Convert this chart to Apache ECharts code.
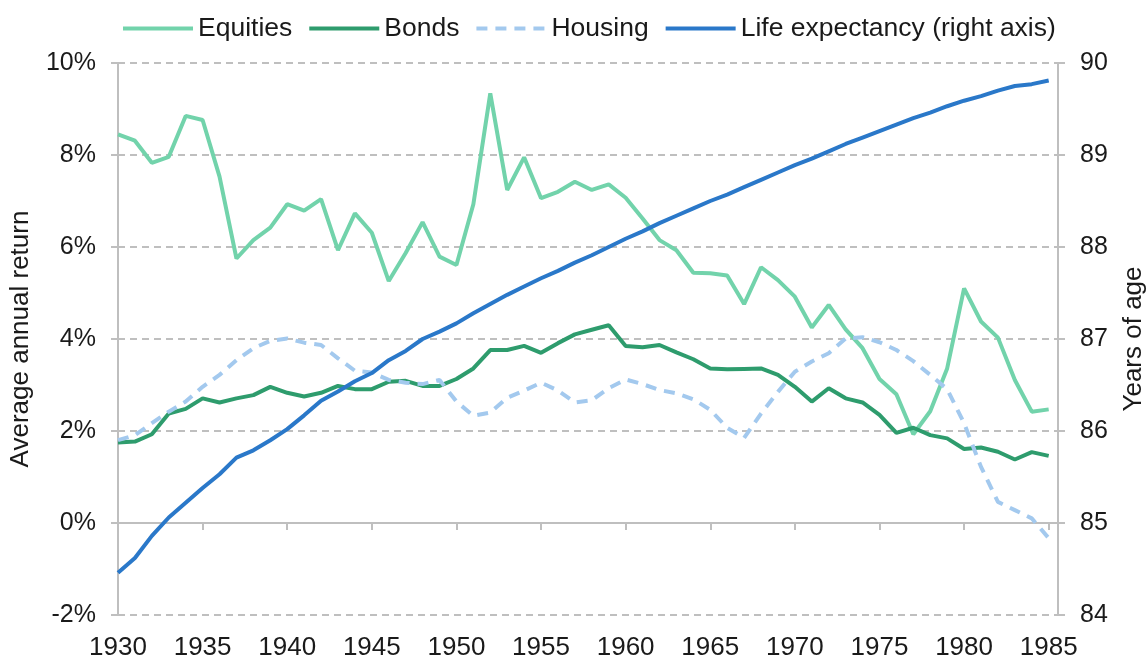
<!DOCTYPE html>
<html>
<head>
<meta charset="utf-8">
<script src="https://cdn.jsdelivr.net/npm/echarts@6/dist/echarts.min.js"></script>
<style>
html,body{margin:0;padding:0;background:#fff;}
#chart{width:1147px;height:658px;}
</style>
</head>
<body>
<div id="chart"></div>
<script>
const years = [];
for (let y = 1930; y <= 1985; y++) years.push(y);

const equities = [8.45,8.31,7.83,7.96,8.85,8.76,7.53,5.75,6.15,6.42,
  6.93,6.79,7.04,5.93,6.73,6.31,5.26,5.87,6.54,5.79,
  5.61,6.93,9.34,7.24,7.95,7.06,7.20,7.42,7.24,7.36,
  7.07,6.62,6.15,5.93,5.44,5.43,5.38,4.76,5.56,5.28,
  4.92,4.25,4.74,4.21,3.80,3.13,2.80,1.93,2.43,3.36,
  5.10,4.38,4.03,3.11,2.42,2.47];

const bonds = [1.75,1.77,1.93,2.38,2.48,2.71,2.62,2.71,2.78,2.96,
  2.83,2.75,2.83,2.98,2.91,2.91,3.07,3.09,2.98,2.98,
  3.13,3.36,3.76,3.76,3.85,3.70,3.91,4.10,4.20,4.30,
  3.85,3.82,3.87,3.71,3.56,3.36,3.34,3.35,3.36,3.22,
  2.96,2.64,2.93,2.71,2.62,2.35,1.96,2.07,1.91,1.84,
  1.61,1.64,1.55,1.38,1.54,1.46];

const housing = [1.80,1.91,2.17,2.42,2.64,2.96,3.22,3.54,3.80,3.96,
  4.01,3.92,3.87,3.58,3.31,3.27,3.11,3.05,3.02,3.11,
  2.64,2.33,2.40,2.72,2.88,3.05,2.88,2.62,2.67,2.93,
  3.12,3.02,2.89,2.82,2.69,2.46,2.07,1.85,2.38,2.85,
  3.29,3.51,3.69,4.01,4.04,3.93,3.76,3.52,3.22,2.91,
  2.17,1.22,0.46,0.28,0.10,-0.33];

const lifeExpectancy = [84.46,84.62,84.86,85.06,85.22,85.38,85.53,85.71,85.79,85.90,
  86.02,86.17,86.33,86.43,86.54,86.63,86.77,86.87,87.00,87.08,
  87.17,87.28,87.38,87.48,87.57,87.66,87.74,87.83,87.91,88.00,
  88.09,88.17,88.26,88.34,88.42,88.50,88.57,88.65,88.73,88.81,
  88.89,88.96,89.04,89.12,89.19,89.26,89.33,89.40,89.46,89.53,
  89.59,89.64,89.70,89.75,89.77,89.81];

const seriesNames = ['Equities','Bonds','Housing','Life expectancy (right axis)'];
const leftTicks = [-2,0,2,4,6,8,10];
const rightTicks = [84,85,86,87,88,89,90];

const pairs = arr => years.map((y, i) => [y, arr[i]]);

const FONT = "'Liberation Sans', Arial, sans-serif";
const TXT = '#1a1a1a';
const GRID = '#bfbfbf';
const X_MIN = 1930, X_MAX = 1985.55;
const LW = 4;

const chart = echarts.init(document.getElementById('chart'), null, {renderer: 'canvas'});
chart.setOption({
  animation: false,
  backgroundColor: '#fff',
  textStyle: {fontFamily: FONT, color: TXT},
  legend: {
    top: 10,
    left: 116,
    itemWidth: 70,
    itemHeight: 14,
    itemGap: 15,
    itemStyle: {opacity: 0},
    lineStyle: {width: 4},
    textStyle: {fontSize: 26.5, color: TXT, fontFamily: FONT},
    data: seriesNames
  },
  grid: {left: 118, right: 89, top: 63, bottom: 43, containLabel: false, outerBoundsMode: 'none'},
  xAxis: [
    {
      type: 'value',
      position: 'top',
      min: X_MIN,
      max: X_MAX,
      interval: 5,
      axisLine: {onZero: true, onZeroAxisIndex: 0, lineStyle: {color: GRID, width: 2}},
      axisTick: {show: true, inside: true, length: 7, lineStyle: {color: GRID, width: 2}},
      splitLine: {show: false},
      axisLabel: {show: false}
    },
    {
      type: 'value',
      position: 'bottom',
      min: X_MIN,
      max: X_MAX,
      interval: 5,
      axisLine: {show: false, onZero: false},
      axisTick: {show: false},
      splitLine: {show: false},
      axisLabel: {
        margin: 20,
        fontSize: 26,
        color: TXT,
        fontFamily: FONT,
        hideOverlap: false,
        formatter: v => (v % 5 === 0 ? String(v) : '')
      }
    }
  ],
  yAxis: [
    {
      type: 'value',
      min: leftTicks[0],
      max: leftTicks[leftTicks.length - 1],
      interval: 2,
      name: 'Average annual return',
      nameLocation: 'middle',
      nameGap: 84,
      nameTextStyle: {fontSize: 26, color: TXT, fontFamily: FONT},
      axisLine: {show: true, onZero: false, lineStyle: {color: GRID, width: 2}},
      axisTick: {show: true, length: 7, lineStyle: {color: GRID, width: 2}},
      splitLine: {show: true, lineStyle: {color: GRID, width: 2, type: [7, 5]}},
      axisLabel: {margin: 22, fontSize: 25, color: TXT, fontFamily: FONT, formatter: '{value}%'}
    },
    {
      type: 'value',
      min: rightTicks[0],
      max: rightTicks[rightTicks.length - 1],
      interval: 1,
      position: 'right',
      name: 'Years of age',
      nameLocation: 'middle',
      nameGap: 63,
      nameRotate: 90,
      nameTextStyle: {fontSize: 26, color: TXT, fontFamily: FONT},
      axisLine: {show: true, onZero: false, lineStyle: {color: GRID, width: 2}},
      axisTick: {show: true, length: 7, lineStyle: {color: GRID, width: 2}},
      splitLine: {show: false},
      axisLabel: {margin: 22, fontSize: 25, color: TXT, fontFamily: FONT}
    }
  ],
  series: [
    {
      name: seriesNames[0], type: 'line', xAxisIndex: 0, yAxisIndex: 0, data: pairs(equities),
      symbol: 'none', lineStyle: {color: '#72d3ab', width: LW}, itemStyle: {color: '#72d3ab'}
    },
    {
      name: seriesNames[1], type: 'line', xAxisIndex: 0, yAxisIndex: 0, data: pairs(bonds),
      symbol: 'none', lineStyle: {color: '#2e9c6d', width: LW}, itemStyle: {color: '#2e9c6d'}
    },
    {
      name: seriesNames[2], type: 'line', xAxisIndex: 0, yAxisIndex: 0, data: pairs(housing),
      symbol: 'none', lineStyle: {color: '#a3c9ee', width: LW, type: [11, 8]}, itemStyle: {color: '#a3c9ee'}
    },
    {
      name: seriesNames[3], type: 'line', xAxisIndex: 0, yAxisIndex: 1, data: pairs(lifeExpectancy),
      symbol: 'none', lineStyle: {color: '#2a78c9', width: LW}, itemStyle: {color: '#2a78c9'}
    }
  ]
});
</script>
</body>
</html>
